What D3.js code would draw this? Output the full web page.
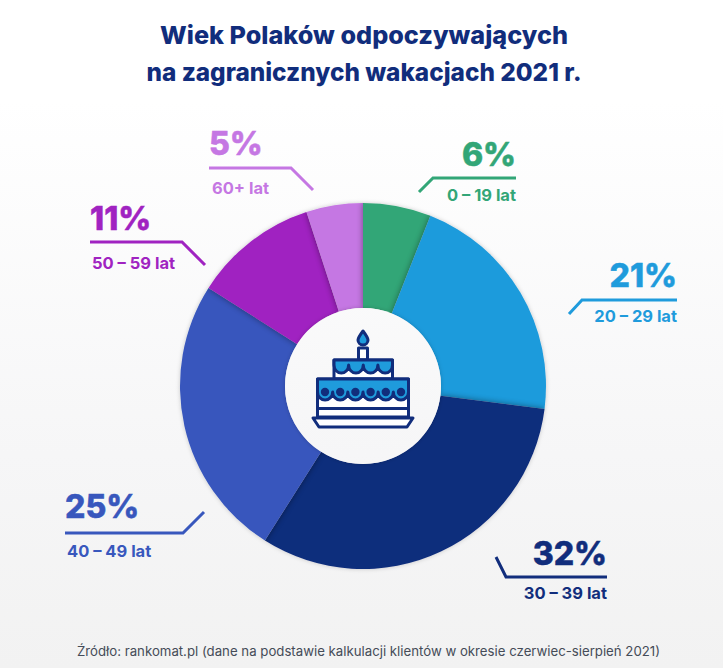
<!DOCTYPE html>
<html lang="pl">
<head>
<meta charset="utf-8">
<script src="https://cdn.jsdelivr.net/npm/d3@7"></script>
<style>
html,body{margin:0;padding:0;background:#fff;}
svg{display:block;}
text{font-family:Inter,"Open Sans",sans-serif;}
</style>
</head>
<body>
<div id="chart"></div>
<script>
const ageGroups = ["0 – 19 lat","20 – 29 lat","30 – 39 lat","40 – 49 lat","50 – 59 lat","60+ lat"];
const shares = [6,21,32,25,11,5];
const sliceColors = ["#32a677","#1f9bdc","#112d7c","#3857bd","#a023c1","#c577e3"];
const titleLines = ["Wiek Polaków odpoczywających","na zagranicznych wakacjach 2021 r."];
const sourceNote = "Źródło: rankomat.pl (dane na podstawie kalkulacji klientów w okresie czerwiec-sierpień 2021)";

const W = 723, H = 668, cx = 363, cy = 386, R = 183, r0 = 78;
const navy = "#112d7c";

const svg = d3.select("#chart").append("svg").attr("width",W).attr("height",H);
const defs = svg.append("defs");

// Page wash, also reused for the hole of the ring
const bg = defs.append("linearGradient").attr("id","bg").attr("gradientUnits","userSpaceOnUse")
  .attr("x1",0).attr("x2",0).attr("y1",0).attr("y2",H);
bg.append("stop").attr("offset","15%").attr("stop-color","#ffffff");
bg.append("stop").attr("offset","68%").attr("stop-color","#f6f6f7");
bg.append("stop").attr("offset","100%").attr("stop-color","#f2f2f2");
svg.append("rect").attr("width",W).attr("height",H).attr("fill","url(#bg)");

const soft = defs.append("filter").attr("id","soft").attr("x","-30%").attr("y","-30%").attr("width","160%").attr("height","160%");
soft.append("feDropShadow").attr("dx",0).attr("dy",0).attr("stdDeviation",2).attr("flood-color","#000").attr("flood-opacity",0.2);
const blur = defs.append("filter").attr("id","blur").attr("x","-30%").attr("y","-30%").attr("width","160%").attr("height","160%");
blur.append("feGaussianBlur").attr("stdDeviation",3.2);

const titleWidths = [408,435];
svg.append("g").selectAll("text").data(titleLines).join("text")
  .attr("x",364).attr("y",(d,i)=>i?81:44)
  .attr("text-anchor","middle").attr("fill",navy)
  .attr("font-size",24.5).attr("font-weight",800)
  .attr("textLength",(d,i)=>titleWidths[i]).attr("lengthAdjust","spacingAndGlyphs").text(d=>d);

const pie = d3.pie().sort(null).value(d=>d);
const arc = d3.arc().innerRadius(r0).outerRadius(R);
const arcs = pie(shares);

const plot = svg.append("g").attr("transform",`translate(${cx},${cy})`);
plot.append("g").attr("filter","url(#soft)").selectAll("path").data(arcs).join("path")
  .attr("d",arc).attr("fill",(d,i)=>sliceColors[i]);

// Each slice throws a soft edge on the slice before it, all the way round the ring.
arcs.forEach((a,i)=>{
  const prev = arcs[(i+arcs.length-1)%arcs.length];
  defs.append("clipPath").attr("id",`under-${i}`).append("path").attr("d",arc(prev));
  plot.append("g").attr("clip-path",`url(#under-${i})`)
    .append("path").attr("d",arc(a)).attr("fill","#000").attr("opacity",0.42).attr("filter","url(#blur)");
});

svg.append("circle").attr("cx",cx).attr("cy",cy).attr("r",r0).attr("fill","url(#bg)").attr("filter","url(#soft)");

const callouts = [
 {i:0,x:516,a:"end",  py:166,ly:201,lx:516,pts:[[516,178],[433,178],[419,192]]},
 {i:1,x:677,a:"end",  py:287,ly:322,lx:677,pts:[[677,300],[582,300],[569,314]]},
 {i:2,x:607,a:"end",  py:565,ly:599,lx:607,pts:[[607,577],[506,577],[496,557]]},
 {i:3,x:65, a:"start",py:518,ly:557,lx:67, pts:[[65,533],[183,533],[204,512]]},
 {i:4,x:90, a:"start",py:230,ly:269,lx:92, pts:[[90,242],[182,242],[205,265]]},
 {i:5,x:209,a:"start",py:155,ly:194,lx:212,pts:[[209,168],[291,168],[313,190]]}
];
const line = d3.line();
const notes = svg.append("g").selectAll("g").data(callouts).join("g");
notes.append("path").attr("d",d=>line(d.pts)).attr("fill","none")
  .attr("stroke",d=>sliceColors[d.i]).attr("stroke-width",3);
notes.append("text").attr("x",d=>d.x).attr("y",d=>d.py).attr("text-anchor",d=>d.a)
  .attr("fill",d=>sliceColors[d.i]).attr("font-size",32).attr("font-weight",800)
  .attr("stroke",d=>sliceColors[d.i]).attr("stroke-width",0.5)
  .text(d=>shares[d.i]+"%");
notes.append("text").attr("x",d=>d.lx).attr("y",d=>d.ly).attr("text-anchor",d=>d.a)
  .attr("fill",d=>sliceColors[d.i]).attr("font-size",16.5).attr("font-weight",700)
  .text(d=>ageGroups[d.i]);

svg.append("text").attr("x",368.5).attr("y",656).attr("text-anchor","middle")
  .attr("fill","#454c58").attr("font-size",13).attr("font-weight",400)
  .attr("textLength",583).attr("lengthAdjust","spacingAndGlyphs").text(sourceNote);

// Birthday cake icon in the middle of the ring
const cake = svg.append("g").attr("fill","none").attr("stroke",navy).attr("stroke-width",3).attr("stroke-linejoin","round");
const scallops = (x0,x1,n,rr)=>{const w=(x1-x0)/n;let s="";for(let k=0;k<n;k++){s+=`a${Math.abs(w)/2},${rr} 0 0 1 ${w},0`;}return s;};
cake.append("path").attr("d","M363,331c3,4 5,7 5,9a5,5 0 0 1-10,0c0-2 2-5 5-9z").attr("fill","#1f9bdc");
cake.append("rect").attr("x",358.5).attr("y",348).attr("width",9).attr("height",12).attr("fill","#fff");
cake.append("rect").attr("x",334).attr("y",360).attr("width",58.5).attr("height",19).attr("fill","#fff");
cake.append("path").attr("d",`M334,360H392.5V365${scallops(392.5,334,4,8)}Z`).attr("fill","#1f9bdc");
cake.append("rect").attr("x",317.5).attr("y",379).attr("width",91).attr("height",38).attr("fill","#fff");
cake.append("path").attr("d",`M317.5,379H408.5V392${scallops(408.5,317.5,6,8)}Z`).attr("fill","#1f9bdc");
cake.append("g").selectAll("circle").data(d3.range(6)).join("circle")
  .attr("cx",d=>325+d*15.2).attr("cy",392).attr("r",4.2).attr("fill",navy).attr("stroke","none");
cake.append("path").attr("d","M317.5,408.5H408.5");
cake.append("path").attr("d","M313,418H413L407,427H319Z").attr("fill","#fff");
</script>
</body>
</html>
